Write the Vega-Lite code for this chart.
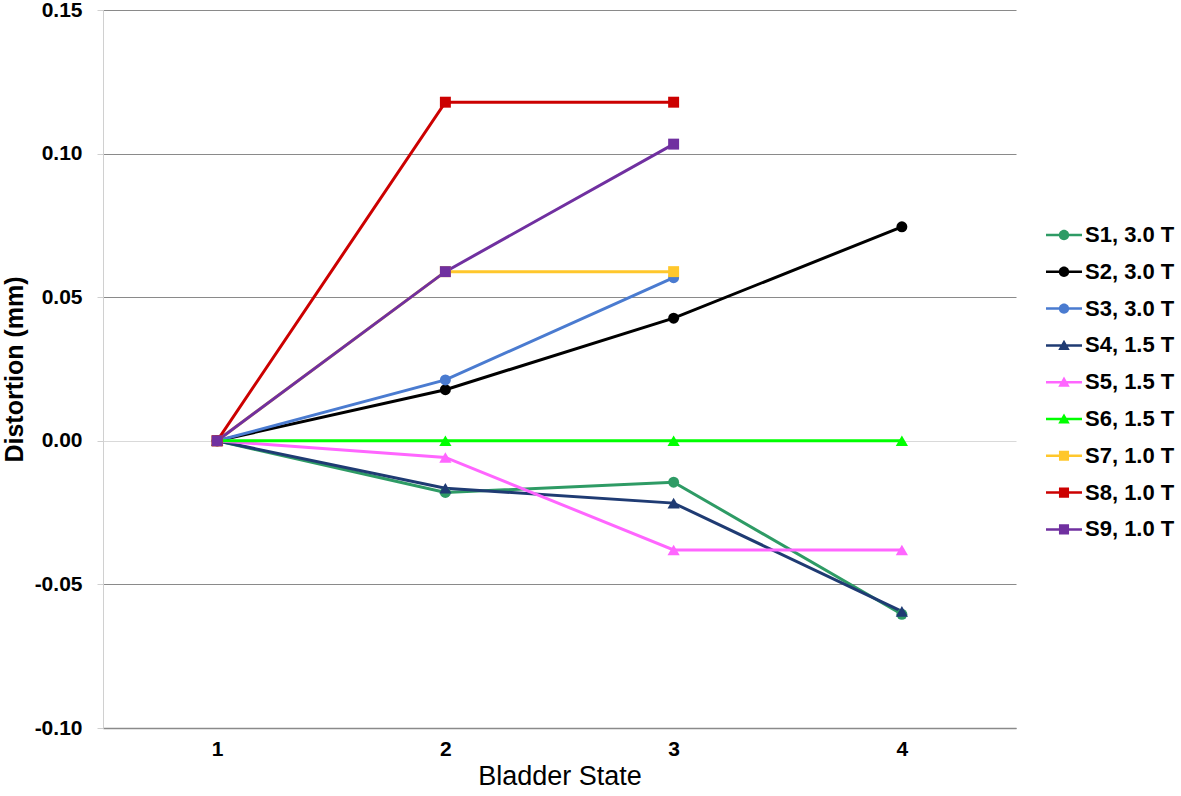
{
  "$schema": "https://vega.github.io/schema/vega-lite/v6.json",
  "width": 913,
  "height": 718,
  "autosize": "none",
  "padding": {"left": 103, "top": 10, "right": 165, "bottom": 68},
  "background": "white",
  "config": {"view": {"stroke": null}, "font": "Liberation Sans"},
  "data": {"values": [
    {"series": "S1, 3.0 T", "state": 1, "value": 0},
    {"series": "S1, 3.0 T", "state": 2, "value": -0.018},
    {"series": "S1, 3.0 T", "state": 3, "value": -0.0144},
    {"series": "S1, 3.0 T", "state": 4, "value": -0.0604},
    {"series": "S2, 3.0 T", "state": 1, "value": 0},
    {"series": "S2, 3.0 T", "state": 2, "value": 0.0178},
    {"series": "S2, 3.0 T", "state": 3, "value": 0.0427},
    {"series": "S2, 3.0 T", "state": 4, "value": 0.0745},
    {"series": "S3, 3.0 T", "state": 1, "value": 0},
    {"series": "S3, 3.0 T", "state": 2, "value": 0.0212},
    {"series": "S3, 3.0 T", "state": 3, "value": 0.0568},
    {"series": "S4, 1.5 T", "state": 1, "value": 0},
    {"series": "S4, 1.5 T", "state": 2, "value": -0.0165},
    {"series": "S4, 1.5 T", "state": 3, "value": -0.0217},
    {"series": "S4, 1.5 T", "state": 4, "value": -0.0594},
    {"series": "S5, 1.5 T", "state": 1, "value": 0},
    {"series": "S5, 1.5 T", "state": 2, "value": -0.0058},
    {"series": "S5, 1.5 T", "state": 3, "value": -0.038},
    {"series": "S5, 1.5 T", "state": 4, "value": -0.038},
    {"series": "S6, 1.5 T", "state": 1, "value": 0},
    {"series": "S6, 1.5 T", "state": 2, "value": 0},
    {"series": "S6, 1.5 T", "state": 3, "value": 0},
    {"series": "S6, 1.5 T", "state": 4, "value": 0},
    {"series": "S7, 1.0 T", "state": 1, "value": 0},
    {"series": "S7, 1.0 T", "state": 2, "value": 0.0589},
    {"series": "S7, 1.0 T", "state": 3, "value": 0.0589},
    {"series": "S8, 1.0 T", "state": 1, "value": 0},
    {"series": "S8, 1.0 T", "state": 2, "value": 0.1179},
    {"series": "S8, 1.0 T", "state": 3, "value": 0.1179},
    {"series": "S9, 1.0 T", "state": 1, "value": 0},
    {"series": "S9, 1.0 T", "state": 2, "value": 0.0589},
    {"series": "S9, 1.0 T", "state": 3, "value": 0.1033}
  ]},
  "encoding": {
    "x": {
      "field": "state", "type": "quantitative",
      "scale": {"domain": [0.5, 4.5], "nice": false, "zero": false},
      "axis": {
        "title": "Bladder State", "values": [1, 2, 3, 4], "format": "d",
        "grid": false, "ticks": false, "tickSize": 0,
        "domainColor": "#8a8a8a", "domainWidth": 1.5,
        "labelFont": "Liberation Sans", "labelFontSize": 21, "labelFontWeight": "bold", "labelColor": "#000",
        "labelPadding": 10,
        "titleFont": "Liberation Sans", "titleFontSize": 27, "titleFontWeight": "normal", "titleColor": "#000",
        "titleY": 48, "titleBaseline": "middle"
      }
    },
    "y": {
      "field": "value", "type": "quantitative",
      "scale": {"domain": [-0.1, 0.15], "nice": false, "zero": false},
      "axis": {
        "title": "Distortion (mm)",
        "values": [-0.1, -0.05, 0, 0.05, 0.1, 0.15],
        "labelExpr": "replace(format(datum.value, '.2f'), '\u2212', '-')",
        "grid": true,
        "gridColor": {"condition": {"test": "abs(datum.value) < 0.0001", "value": "#d9d9d9"}, "value": "#8a8a8a"},
        "gridWidth": 1.2,
        "domainColor": "#d0d0d0", "domainWidth": 1,
        "tickColor": "#d0d0d0", "tickSize": 6,
        "labelFont": "Liberation Sans", "labelFontSize": 21, "labelFontWeight": "bold", "labelColor": "#000",
        "labelPadding": 15,
        "titleFont": "Liberation Sans", "titleFontSize": 25, "titleFontWeight": "bold", "titleColor": "#000",
        "titleX": -89, "titleY": 359, "titleBaseline": "middle", "titleAngle": -90, "titleAlign": "center"
      }
    },
    "color": {
      "field": "series", "type": "nominal",
      "scale": {
        "domain": ["S1, 3.0 T", "S2, 3.0 T", "S3, 3.0 T", "S4, 1.5 T", "S5, 1.5 T", "S6, 1.5 T", "S7, 1.0 T", "S8, 1.0 T", "S9, 1.0 T"],
        "range": ["#2e9b65", "#000000", "#4a7bd0", "#1f3b73", "#ff66ff", "#00ff00", "#ffc72c", "#cc0000", "#7030a0"]
      },
      "legend": {
        "title": null,
        "orient": "none",
        "legendX": 943,
        "legendY": 207,
        "direction": "vertical",
        "padding": 0,
        "symbolSize": 1296,
        "symbolStrokeWidth": 0,
        "rowPadding": 7.8,
        "labelOffset": 3,
        "labelFont": "Liberation Sans",
        "labelFontSize": 22,
        "labelFontWeight": "bold",
        "labelColor": "#000",
        "labelLimit": 200
      }
    }
  },
  "layer": [
    {
      "mark": {"type": "line", "strokeWidth": 3},
      "encoding": {}
    },
    {
      "transform": [{"filter": "datum.state > 99"}],
      "mark": {"type": "point", "filled": true, "opacity": 1},
      "encoding": {
        "shape": {
          "field": "series", "type": "nominal",
          "scale": {
            "domain": ["S1, 3.0 T", "S2, 3.0 T", "S3, 3.0 T", "S4, 1.5 T", "S5, 1.5 T", "S6, 1.5 T", "S7, 1.0 T", "S8, 1.0 T", "S9, 1.0 T"],
            "range": [
              "M-1,-0.07H1V0.07H-1ZM-0.29,0A0.29,0.29 0 1,1 0.29,0A0.29,0.29 0 1,1 -0.29,0Z",
              "M-1,-0.07H1V0.07H-1ZM-0.29,0A0.29,0.29 0 1,1 0.29,0A0.29,0.29 0 1,1 -0.29,0Z",
              "M-1,-0.07H1V0.07H-1ZM-0.29,0A0.29,0.29 0 1,1 0.29,0A0.29,0.29 0 1,1 -0.29,0Z",
              "M-1,-0.07H1V0.07H-1ZM0,-0.31L0.32,0.25L-0.32,0.25Z",
              "M-1,-0.07H1V0.07H-1ZM0,-0.31L0.32,0.25L-0.32,0.25Z",
              "M-1,-0.07H1V0.07H-1ZM0,-0.31L0.32,0.25L-0.32,0.25Z",
              "M-1,-0.07H1V0.07H-1ZM-0.28,-0.28H0.28V0.28H-0.28Z",
              "M-1,-0.07H1V0.07H-1ZM-0.28,-0.28H0.28V0.28H-0.28Z",
              "M-1,-0.07H1V0.07H-1ZM-0.28,-0.28H0.28V0.28H-0.28Z"
            ]
          }
        }
      }
    },
    {
      "transform": [{"filter": "indexof(['S1, 3.0 T','S2, 3.0 T','S3, 3.0 T'], datum.series) >= 0"}],
      "mark": {"type": "point", "filled": true, "opacity": 1, "shape": "circle", "size": 120},
      "encoding": {}
    },
    {
      "transform": [{"filter": "indexof(['S4, 1.5 T','S5, 1.5 T','S6, 1.5 T'], datum.series) >= 0"}],
      "mark": {"type": "point", "filled": true, "opacity": 1, "shape": "triangle-up", "size": 150},
      "encoding": {}
    },
    {
      "transform": [{"filter": "indexof(['S7, 1.0 T','S8, 1.0 T','S9, 1.0 T'], datum.series) >= 0"}],
      "mark": {"type": "point", "filled": true, "opacity": 1, "shape": "square", "size": 120},
      "encoding": {}
    }
  ]
}
